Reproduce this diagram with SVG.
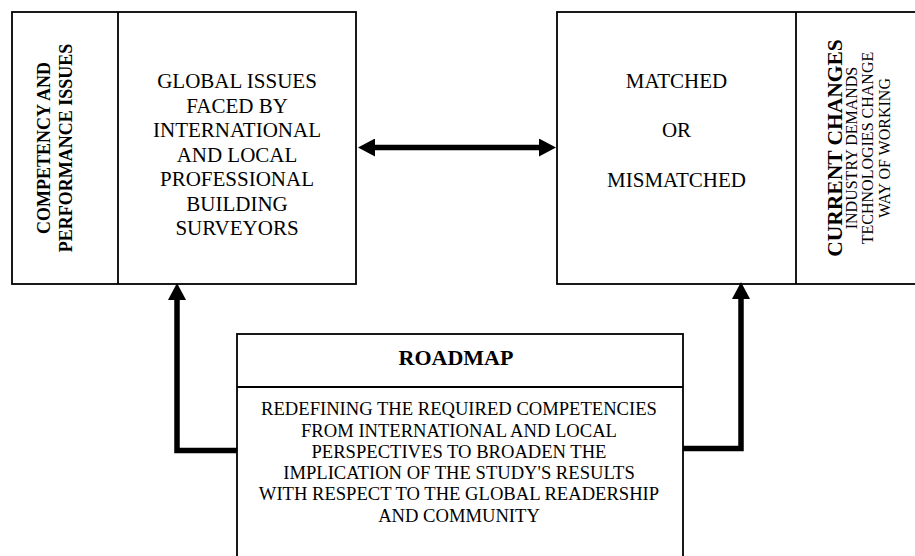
<svg xmlns="http://www.w3.org/2000/svg" width="915" height="556" viewBox="0 0 915 556">
<style>
.box{fill:#fff;stroke:#000;stroke-width:1.8}
.div{stroke:#000;stroke-width:1.8;fill:none}
.t{font-family:"Liberation Serif","Times New Roman",serif;fill:#000;text-anchor:middle}
.b{font-weight:bold}
.conn{fill:none;stroke:#000;stroke-width:5.5;stroke-linejoin:miter}
</style>
<defs>
<marker id="ah" markerUnits="userSpaceOnUse" markerWidth="18" markerHeight="18" refX="0" refY="9" orient="auto-start-reverse" viewBox="0 0 18 18">
<path d="M0,0 L17,9 L0,18 z" fill="#000"/>
</marker>
</defs>
<g id="node-global">
<rect class="box" x="12" y="12" width="344" height="272"/>
<line class="div" x1="118" y1="12" x2="118" y2="284"/>
<text class="t b" font-size="18" transform="translate(50,148) rotate(-90)">COMPETENCY AND</text>
<text class="t b" font-size="18" transform="translate(71.5,148) rotate(-90)">PERFORMANCE ISSUES</text>
<text class="t" font-size="21" x="237" y="88">GLOBAL ISSUES</text>
<text class="t" font-size="21" x="237" y="112.5">FACED BY</text>
<text class="t" font-size="21" x="237" y="137">INTERNATIONAL</text>
<text class="t" font-size="21" x="237" y="161.5">AND LOCAL</text>
<text class="t" font-size="21" x="237" y="186">PROFESSIONAL</text>
<text class="t" font-size="21" x="237" y="210.5">BUILDING</text>
<text class="t" font-size="21" x="237" y="235">SURVEYORS</text>
</g>
<g id="node-matched">
<rect class="box" x="557" y="12" width="370" height="272"/>
<line class="div" x1="796" y1="12" x2="796" y2="284"/>
<text class="t" font-size="21" x="676.5" y="88">MATCHED</text>
<text class="t" font-size="21" x="676.5" y="137">OR</text>
<text class="t" font-size="21" x="676.5" y="186.5">MISMATCHED</text>
<text class="t b" font-size="21.5" transform="translate(841.5,148) rotate(-90)">CURRENT CHANGES</text>
<text class="t" font-size="16" transform="translate(857,148) rotate(-90)">INDUSTRY DEMANDS</text>
<text class="t" font-size="16" transform="translate(873,148) rotate(-90)">TECHNOLOGIES CHANGE</text>
<text class="t" font-size="16" transform="translate(890,148) rotate(-90)">WAY OF WORKING</text>
</g>
<g id="node-roadmap">
<rect class="box" x="237" y="334" width="446" height="240"/>
<line class="div" x1="237" y1="387" x2="683" y2="387"/>
<text class="t b" font-size="22" x="456" y="365">ROADMAP</text>
<text class="t" font-size="18.6" x="459" y="415">REDEFINING THE REQUIRED COMPETENCIES</text>
<text class="t" font-size="18.6" x="459" y="436.5">FROM INTERNATIONAL AND LOCAL</text>
<text class="t" font-size="18.6" x="459" y="457.5">PERSPECTIVES TO BROADEN THE</text>
<text class="t" font-size="18.6" x="459" y="478.5">IMPLICATION OF THE STUDY'S RESULTS</text>
<text class="t" font-size="18.6" x="459" y="500">WITH RESPECT TO THE GLOBAL READERSHIP</text>
<text class="t" font-size="18.6" x="459" y="521.5">AND COMMUNITY</text>
</g>
<g id="connectors">
<path class="conn" d="M375,147.5 H539" marker-start="url(#ah)" marker-end="url(#ah)"/>
<path class="conn" d="M237,450.5 H177 V300" marker-end="url(#ah)"/>
<path class="conn" d="M683,448.5 H741 V299" marker-end="url(#ah)"/>
</g>
</svg>
